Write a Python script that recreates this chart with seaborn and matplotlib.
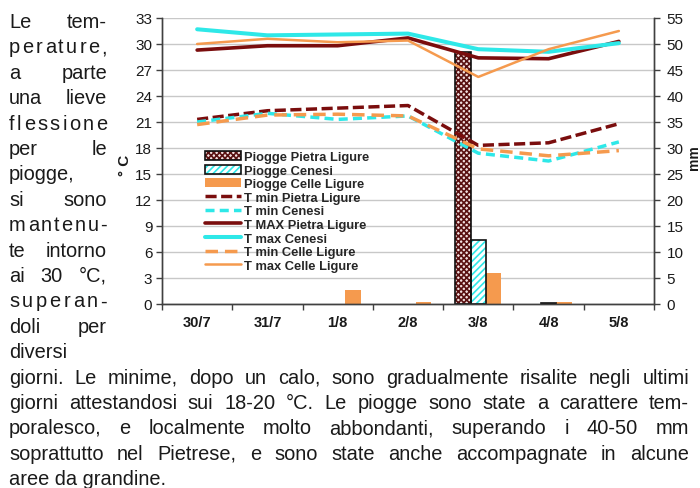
import numpy as np
import pandas as pd
import matplotlib
matplotlib.use('agg')
import seaborn as sns
import matplotlib.pyplot as plt
from matplotlib.patches import Patch
from matplotlib.lines import Line2D
from matplotlib.ticker import FixedLocator

sns.set_theme(style='white')
plt.rcParams['font.family'] = ['Liberation Sans', 'DejaVu Sans']
plt.rcParams['hatch.linewidth'] = 1.2

# giorni e piogge (mm)
giorni = ['30/7', '31/7', '1/8', '2/8', '3/8', '4/8', '5/8']
stazioni = ['Piogge Pietra Ligure', 'Piogge Cenesi', 'Piogge Celle Ligure']
pioggia_pietra = [0, 0, 0, 0, 48.5, 0, 0]
pioggia_cenesi = [0, 0, 0, 0, 12.4, 0.25, 0]
pioggia_celle = [0, 0, 2.6, 0.3, 6.0, 0.3, 0]

# temperature (gradi C)
serie_t = ['T min Pietra Ligure', 'T min Cenesi', 'T MAX Pietra Ligure',
           'T max Cenesi', 'T min Celle Ligure', 'T max Celle Ligure']
tmin_pietra = [21.3, 22.3, 22.6, 22.9, 18.3, 18.6, 20.8]
tmin_cenesi = [21.0, 22.0, 21.3, 21.7, 17.4, 16.5, 18.7]
tmax_pietra = [29.3, 29.8, 29.8, 30.7, 28.4, 28.3, 30.3]
tmax_cenesi = [31.7, 31.0, 31.1, 31.2, 29.4, 29.1, 30.1]
tmin_celle = [20.7, 21.8, 21.9, 21.7, 17.9, 17.1, 17.7]
tmax_celle = [30.0, 30.6, 30.2, 30.4, 26.2, 29.4, 31.5]

# testo dell'articolo
righe_colonna = ['Le tem-', 'perature,', 'a parte', 'una lieve', 'flessione',
                 'per le', 'piogge,', 'si sono', 'mantenu-', 'te intorno',
                 'ai 30 °C,', 'superan-', 'doli per', 'diversi']
righe_sotto = ['giorni. Le minime, dopo un calo, sono gradualmente risalite negli ultimi',
               'giorni attestandosi sui 18-20 °C. Le piogge sono state a carattere tem-',
               'poralesco, e localmente molto abbondanti, superando i 40-50 mm',
               'soprattutto nel Pietrese, e sono state anche accompagnate in alcune',
               'aree da grandine.']

rosso = '#7a0d0d'
ciano = '#2ee8e8'
arancio = '#f59a4e'

pioggia = pd.DataFrame({
    'giorno': giorni * 3,
    'stazione': np.repeat(stazioni, len(giorni)),
    'mm': pioggia_pietra + pioggia_cenesi + pioggia_celle,
})
temp = pd.DataFrame({
    'giorno': giorni * len(serie_t),
    'serie': np.repeat(serie_t, len(giorni)),
    'temp': tmin_pietra + tmin_cenesi + tmax_pietra + tmax_cenesi + tmin_celle + tmax_celle,
})
temp['pos'] = pd.Categorical(temp['giorno'], categories=giorni).codes

colori = dict(zip(serie_t, [rosso, ciano, rosso, ciano, arancio, arancio]))
tratti = dict(zip(serie_t, [(3.2, 1.3), (2.6, 1.5), '', '', (3.6, 2.0), '']))
spessori = dict(zip(serie_t, [2.5, 2.5, 2.6, 2.9, 2.5, 1.8]))

W, H = 700, 489
fig, ax_t = plt.subplots(figsize=(7, 4.89), dpi=100)
fig.subplots_adjust(left=162 / W, right=654 / W, top=1 - 19 / H, bottom=1 - 305 / H)
ax_mm = ax_t.twinx()
ax_t.set_zorder(ax_mm.get_zorder() + 1)
ax_t.patch.set_visible(False)

# barre piogge
sns.barplot(data=pioggia, x='giorno', y='mm', hue='stazione', order=giorni,
            hue_order=stazioni, palette=[rosso, ciano, arancio], width=0.66,
            saturation=1, errorbar=None, linewidth=0, legend=False, ax=ax_mm)
stili_barre = [('#f3e2e2', '#5a1212', 'xxxxxx'), ('white', ciano, '/////'), (arancio, arancio, '')]
for cont, (fc, hc, hatch) in zip(ax_mm.containers, stili_barre):
    for p in cont:
        p.set_facecolor(fc)
        p.set_edgecolor(hc)
        p.set_hatch(hatch)
        p.set_linewidth(0)
sns.barplot(data=pioggia, x='giorno', y='mm', hue='stazione', order=giorni,
            hue_order=stazioni, palette=['#111111', '#111111', (0, 0, 0, 0)], width=0.66,
            fill=False, errorbar=None, linewidth=1.2, legend=False, ax=ax_mm)
# niente contorno per le barre a zero
for p in ax_mm.patches:
    if p.get_height() == 0:
        p.set_visible(False)

# linee temperature
sns.lineplot(data=temp, x='pos', y='temp', hue='serie', style='serie', size='serie',
             hue_order=serie_t, style_order=serie_t, size_order=serie_t,
             palette=colori, dashes=tratti, sizes=spessori, sort=False,
             legend=False, ax=ax_t)

ax_t.set_xlim(-0.5, len(giorni) - 0.5)
ax_t.set_ylim(0, 33)
ax_mm.set_ylim(0, 55)
ax_t.set_yticks(np.arange(0, 34, 3))
ax_mm.set_yticks(np.arange(0, 56, 5))
ax_t.set_xticks(range(len(giorni)))
ax_t.set_xticklabels(giorni, fontweight='bold', fontsize=10.5, color='#1a1a1a')
ax_t.xaxis.set_minor_locator(FixedLocator(np.arange(-0.5, len(giorni), 1)))
ax_t.tick_params(axis='x', which='major', length=0, pad=8)
ax_t.tick_params(axis='x', which='minor', length=4, width=1, color='#404040', bottom=True)
ax_t.tick_params(axis='y', left=True, length=4, width=1, color='#404040', pad=3,
                 labelsize=11, labelcolor='#1a1a1a')
ax_mm.tick_params(axis='y', right=True, length=4, width=1, color='#404040', pad=5,
                  labelsize=11, labelcolor='#1a1a1a')
ax_t.set_xlabel('')
ax_t.set_ylabel('')
ax_mm.set_ylabel('')
ax_mm.yaxis.grid(True, color='#c8c8c8', linewidth=1)
ax_t.grid(False)
for a in (ax_t, ax_mm):
    a.spines['top'].set_visible(False)
    for s in ('left', 'right', 'bottom'):
        a.spines[s].set_color('#404040')
        a.spines[s].set_linewidth(1)

fig.text(125 / W, 1 - 165 / H, '° C', rotation=90, fontweight='bold', fontsize=11,
         ha='center', va='center', color='#1a1a1a')
fig.text(694 / W, 1 - 158 / H, 'mm', rotation=90, fontweight='bold', fontsize=10,
         ha='center', va='center', color='#1a1a1a')

# legenda
maniglie = [
    (Patch(facecolor='#f3e2e2', edgecolor='#5a1212', hatch='xxxxxx', linewidth=0),
     Patch(facecolor='none', edgecolor='#111111', linewidth=1.2)),
    (Patch(facecolor='white', edgecolor=ciano, hatch='/////', linewidth=0),
     Patch(facecolor='none', edgecolor='#111111', linewidth=1.2)),
    Patch(facecolor=arancio, edgecolor='none'),
]
for s in serie_t:
    d = tratti[s]
    if d == '':
        maniglie.append(Line2D([], [], color=colori[s], lw=spessori[s]))
    else:
        maniglie.append(Line2D([], [], color=colori[s], lw=spessori[s], dashes=d))
ax_t.legend(maniglie, stazioni + serie_t, loc='upper left',
            bbox_to_anchor=((205 - 162) / 492, (305 - 152) / 286),
            frameon=False, borderpad=0, borderaxespad=0, handletextpad=0.25,
            handlelength=2.8, labelspacing=0.12,
            prop={'weight': 'bold', 'size': 9.3})

# testo giustificato
renderer = fig.canvas.get_renderer()
props = dict(fontsize=14.4, color='#1a1a1a', va='baseline', ha='left')


def riga(testo, x0, x1, y, giustifica):
    if not giustifica:
        fig.text(x0 / W, 1 - y / H, testo, **props)
        return
    pezzi = testo.split(' ')
    if len(pezzi) == 1:
        pezzi = list(testo)
    tt = [fig.text(0, 1 - y / H, p, **props) for p in pezzi]
    larg = [t.get_window_extent(renderer).width for t in tt]
    spazio = (x1 - x0 - sum(larg)) / (len(pezzi) - 1)
    x = x0
    for t, w in zip(tt, larg):
        t.set_x(x / W)
        x += w + spazio


for k, r in enumerate(righe_colonna):
    riga(r, 9, 107, 28 + 25.4 * k, r not in ('piogge,', 'diversi'))
for k, r in enumerate(righe_sotto):
    riga(r, 9, 689, 28 + 25.4 * (len(righe_colonna) + k), k < len(righe_sotto) - 1)

fig.savefig('out.png', dpi=100)
